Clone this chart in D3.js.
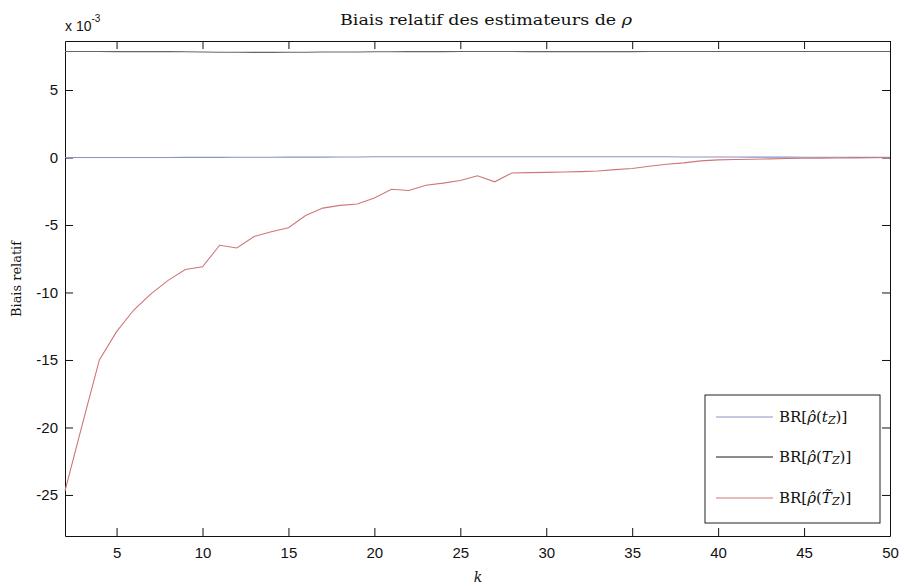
<!DOCTYPE html>
<html>
<head>
<meta charset="utf-8">
<script src="https://cdn.jsdelivr.net/npm/d3@7"></script>
<style>
  html, body { margin: 0; padding: 0; background: #fff; }
  svg { display: block; }
  .tick text { font-family: "Liberation Sans Narrow", "Liberation Sans", Arial, sans-serif; font-size: 15px; fill: #111; }
</style>
</head>
<body>
<svg id="chart" width="902" height="588"></svg>
<script>
// k values (window size)
const kValues = d3.range(2, 51);

// Relative bias (x 10^-3) of the three estimators
const biasTz = [
  0.00, 0.00, 0.00, 0.00, 0.00, 0.00, 0.00, 0.01, 0.01, 0.01,
  0.02, 0.02, 0.02, 0.03, 0.03, 0.03, 0.04, 0.04, 0.05, 0.05,
  0.05, 0.05, 0.05, 0.05, 0.05, 0.05, 0.05, 0.05, 0.05, 0.05,
  0.05, 0.05, 0.05, 0.05, 0.05, 0.05, 0.04, 0.04, 0.04, 0.04,
  0.03, 0.03, 0.03, 0.02, 0.02, 0.02, 0.01, 0.01, 0.01
];
const biasTzCap = [
  7.85, 7.85, 7.85, 7.84, 7.84, 7.84, 7.84, 7.83, 7.82, 7.80,
  7.80, 7.79, 7.79, 7.80, 7.80, 7.81, 7.82, 7.82, 7.83, 7.83,
  7.84, 7.84, 7.84, 7.85, 7.85, 7.85, 7.85, 7.84, 7.84, 7.84,
  7.84, 7.84, 7.84, 7.84, 7.85, 7.85, 7.85, 7.85, 7.85, 7.85,
  7.85, 7.85, 7.85, 7.85, 7.85, 7.85, 7.85, 7.85, 7.85
];
const biasTzTilde = [
  -24.7, -19.8, -15.0, -12.9, -11.3, -10.1, -9.1, -8.3, -8.1, -6.5,
  -6.7, -5.85, -5.5, -5.2, -4.3, -3.75, -3.55, -3.45, -3.0, -2.35,
  -2.45, -2.05, -1.9, -1.7, -1.35, -1.8, -1.15, -1.12, -1.1, -1.08,
  -1.05, -1.0, -0.9, -0.82, -0.65, -0.5, -0.4, -0.25, -0.18, -0.15,
  -0.13, -0.1, -0.08, -0.06, -0.05, -0.04, -0.03, -0.02, 0.0
];

const xTicks = [5, 10, 15, 20, 25, 30, 35, 40, 45, 50];
const yTicks = [-25, -20, -15, -10, -5, 0, 5];

const seriesColors = ["#8a93c4", "#1a1a1a", "#cf7676"];
const seriesData = [biasTz, biasTzCap, biasTzTilde];

const svg = d3.select("#chart");
const plotLeft = 65, plotRight = 890, plotTop = 41, plotBottom = 536;

const x = d3.scaleLinear().domain([2, 50]).range([plotLeft, plotRight]);
const y = d3.scaleLinear().domain([-28.04, 8.63]).range([plotBottom, plotTop]);

// plain hyphen-minus tick labels
const fmt = d => String(d);

// Axes with inward ticks on all four sides
svg.append("g").attr("transform", `translate(0,${plotBottom})`)
  .call(d3.axisBottom(x).tickValues(xTicks).tickFormat(fmt).tickSize(-8).tickSizeOuter(0).tickPadding(11))
  .call(g => g.selectAll("line,path").attr("stroke", "#111"));
svg.append("g").attr("transform", `translate(0,${plotTop})`)
  .call(d3.axisTop(x).tickValues(xTicks).tickSize(-8).tickSizeOuter(0).tickFormat(""))
  .call(g => g.selectAll("line,path").attr("stroke", "#111"));
svg.append("g").attr("transform", `translate(${plotLeft},0)`)
  .call(d3.axisLeft(y).tickValues(yTicks).tickFormat(fmt).tickSize(-8).tickSizeOuter(0).tickPadding(7))
  .call(g => g.selectAll("line,path").attr("stroke", "#111"));
svg.append("g").attr("transform", `translate(${plotRight},0)`)
  .call(d3.axisRight(y).tickValues(yTicks).tickSize(-8).tickSizeOuter(0).tickFormat(""))
  .call(g => g.selectAll("line,path").attr("stroke", "#111"));

// Series lines
const line = d3.line().x((d, i) => x(kValues[i])).y(d => y(d));
const lineColors = ["#8a93c4", "#5c6862", "#cf7676"];
seriesData.forEach((data, i) => {
  svg.append("path").datum(data)
    .attr("fill", "none")
    .attr("stroke", lineColors[i])
    .attr("stroke-width", 1.1)
    .attr("d", line);
});

// Exponent label
const expo = svg.append("text")
  .attr("x", 65).attr("y", 31)
  .attr("font-family", "Liberation Sans, Arial, sans-serif")
  .attr("font-size", 14).attr("fill", "#111");
expo.append("tspan").text("x 10");
expo.append("tspan").attr("dy", -9).attr("font-size", 10).text("-3");

// Title
const title = svg.append("text")
  .attr("x", 340).attr("y", 25)
  .attr("font-family", "DejaVu Serif, serif")
  .attr("font-size", 14).attr("fill", "#111")
  .attr("textLength", 292).attr("lengthAdjust", "spacingAndGlyphs");
title.append("tspan").text("Biais relatif des estimateurs de ");
title.append("tspan").attr("font-style", "italic").text("ρ");

// Axis labels
svg.append("text")
  .attr("transform", "translate(21,279) rotate(-90)")
  .attr("text-anchor", "middle")
  .attr("font-family", "DejaVu Serif, serif")
  .attr("font-size", 12).attr("fill", "#111")
  .attr("textLength", 76).attr("lengthAdjust", "spacingAndGlyphs")
  .text("Biais relatif");
svg.append("text")
  .attr("x", 478).attr("y", 582)
  .attr("text-anchor", "middle")
  .attr("font-family", "DejaVu Serif, serif")
  .attr("font-style", "italic")
  .attr("font-size", 14).attr("fill", "#111")
  .text("k");

// Legend
const lg = svg.append("g");
lg.append("rect")
  .attr("x", 705).attr("y", 395).attr("width", 175).attr("height", 128)
  .attr("fill", "#fff").attr("stroke", "#222").attr("stroke-width", 1);
const legendRows = [417, 457, 498];
const legendLabels = [
  ["t", "Z", false],
  ["T", "Z", false],
  ["T", "Z", true]
];
legendRows.forEach((ly, i) => {
  lg.append("line")
    .attr("x1", 716).attr("x2", 773).attr("y1", ly).attr("y2", ly)
    .attr("stroke", seriesColors[i]).attr("stroke-width", 1.2);
  const t = lg.append("text")
    .attr("x", 779).attr("y", ly + 5)
    .attr("font-family", "DejaVu Serif, serif")
    .attr("font-size", 15).attr("fill", "#111");
  t.append("tspan").text("BR[");
  t.append("tspan").attr("font-style", "italic").text("ρ\u0302");
  t.append("tspan").text("(");
  t.append("tspan").attr("font-style", "italic")
    .text(legendLabels[i][0] + (legendLabels[i][2] ? "\u0303" : ""));
  t.append("tspan").attr("font-style", "italic").attr("font-size", 11).attr("dy", 2).text(legendLabels[i][1]);
  t.append("tspan").attr("dy", -2).text(")]");
});
</script>
</body>
</html>
